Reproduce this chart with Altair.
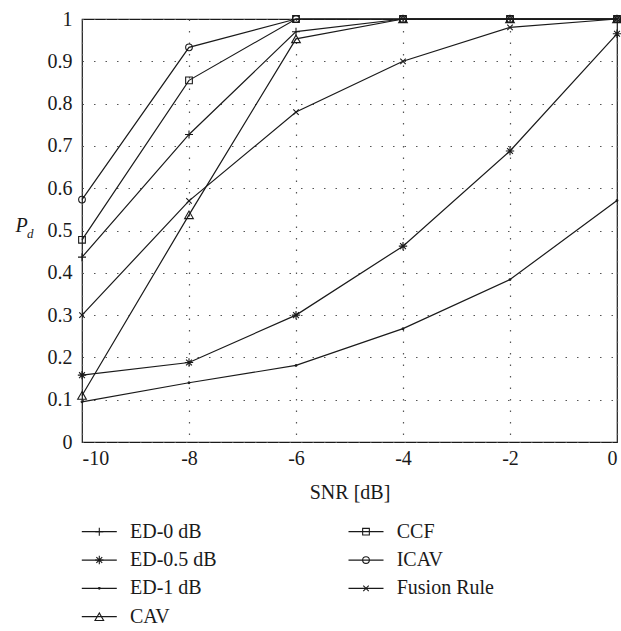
import altair as alt
import pandas as pd

snr = [-10, -8, -6, -4, -2, 0]
series = ["ED-0 dB", "ED-0.5 dB", "ED-1 dB", "CAV", "CCF", "ICAV", "Fusion Rule"]
ed0 = [0.437, 0.727, 0.970, 1.0, 1.0, 1.0]
ed05 = [0.158, 0.188, 0.300, 0.463, 0.688, 0.965]
ed1 = [0.095, 0.140, 0.181, 0.268, 0.384, 0.571]
cav = [0.110, 0.537, 0.953, 1.0, 1.0, 1.0]
ccf = [0.478, 0.855, 1.0, 1.0, 1.0, 1.0]
icav = [0.573, 0.933, 1.0, 1.0, 1.0, 1.0]
fusion = [0.300, 0.570, 0.780, 0.900, 0.980, 1.0]
values = [ed0, ed05, ed1, cav, ccf, icav, fusion]

legend_col = [0, 0, 0, 0, 1, 1, 1]
legend_row = [0, 1, 2, 3, 0, 1, 2]

y_ticks = [0, 0.1, 0.2, 0.3, 0.4, 0.5, 0.6, 0.7, 0.8, 0.9, 1]
x_ticks = [-10, -8, -6, -4, -2, 0]

rows = []
for s, vals in zip(series, values):
    for x, v in zip(snr, vals):
        rows.append({"series": s, "snr": x, "pd": v})
df = pd.DataFrame(rows)
leg = pd.DataFrame({"series": series, "col": legend_col, "row": legend_row})

shapes = [
    "M-1,0L1,0M0,-1L0,1",
    "M-1,0L1,0M0,-1L0,1M-0.7,-0.7L0.7,0.7M-0.7,0.7L0.7,-0.7",
    "circle",
    "triangle-up",
    "square",
    "circle",
    "M-1,-1L1,1M-1,1L1,-1",
]
sizes = [64, 70, 3, 75, 45, 45, 30]

FONT = "Liberation Serif"
INK = "#1a1a1a"

shape_enc = alt.Shape("series:N", scale=alt.Scale(domain=series, range=shapes), legend=None)
size_enc = alt.Size("series:N", scale=alt.Scale(type="ordinal", domain=series, range=sizes), legend=None)

xenc = alt.X("snr:Q", scale=alt.Scale(domain=[-10, 0], nice=False),
             axis=alt.Axis(values=x_ticks, labelExpr="'' + datum.value", title="SNR [dB]",
                           titleY=50, titleBaseline="middle", labelPadding=6))
yenc = alt.Y("pd:Q", scale=alt.Scale(domain=[0, 1], nice=False),
             axis=alt.Axis(values=y_ticks, format=".1~f", title="P", titleAngle=0,
                           titleX=-61, titleY=206, titleAlign="center", titleBaseline="middle",
                           titleFontStyle="italic", labelPadding=10))

base = alt.Chart(df)
lines = base.mark_line(color=INK, strokeWidth=1.2).encode(x=xenc, y=yenc, detail="series:N")
points = base.mark_point(color=INK, filled=False, strokeWidth=1.1, opacity=1).encode(
    x="snr:Q", y="pd:Q", shape=shape_enc, size=size_enc)
sub = alt.Chart(pd.DataFrame({"t": ["d"]})).mark_text(
    font=FONT, fontSize=13, fontStyle="italic", color=INK, align="left", baseline="middle"
).encode(x=alt.value(-55), y=alt.value(215), text="t:N")

main = alt.layer(lines, points, sub)

lx = alt.X("col:Q", scale=alt.Scale(domain=[0, 1], range=[17.3, 284]), axis=None)
ly = alt.Y("row:Q", scale=alt.Scale(domain=[0, 3], range=[512.7, 597.7]), axis=None)
lbase = alt.Chart(leg)
lrule = lbase.mark_rule(color=INK, strokeWidth=1.2, xOffset=-17.5, x2Offset=17.5).encode(
    x=lx, x2="col:Q", y=ly)
lpts = lbase.mark_point(color=INK, filled=False, strokeWidth=1.1, opacity=1).encode(
    x=lx, y=ly, shape=shape_enc, size=size_enc)
ltext = lbase.mark_text(font=FONT, fontSize=20, color=INK, align="left", baseline="middle",
                        dx=30.7).encode(x=lx, y=ly, text="series:N")
legend = alt.layer(lrule, lpts, ltext)

chart = alt.layer(main, legend).resolve_scale(x="independent", y="independent").properties(
    width=535, height=423,
    autosize=alt.AutoSizeParams(type="none"),
    padding={"left": 82, "top": 19, "right": 4, "bottom": 189},
    background="white",
).configure_view(stroke=INK, strokeWidth=1.2).configure_axis(
    labelFont=FONT, labelFontSize=20, labelColor=INK,
    titleFont=FONT, titleFontSize=20, titleColor=INK, titleFontWeight="normal",
    domain=False, ticks=False,
    grid=True, gridColor="#555555", gridDash=[1.5, 10], gridWidth=1.2, gridOpacity=1,
)

chart.save("out.html", embed_options={"renderer": "svg", "actions": False})
